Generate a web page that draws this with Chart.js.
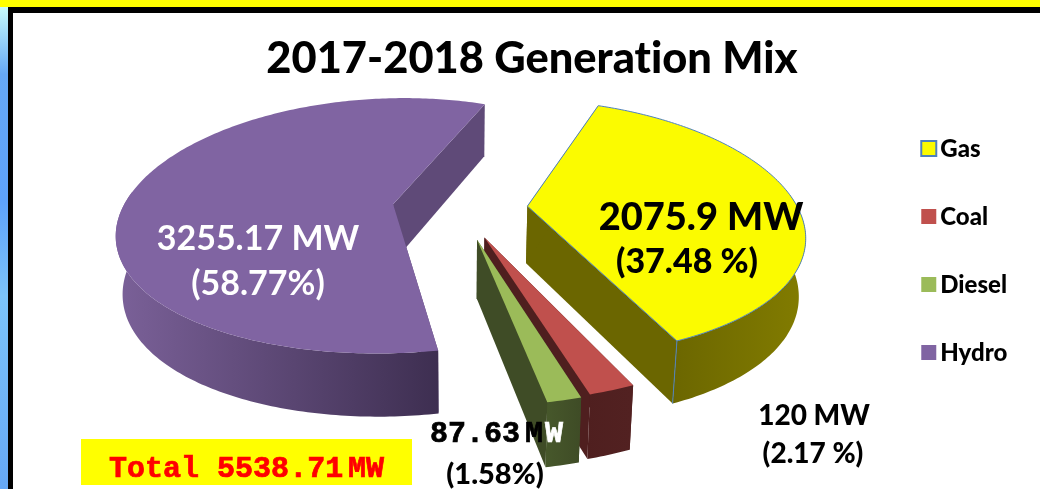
<!DOCTYPE html>
<html>
<head>
<meta charset="utf-8">
<title>2017-2018 Generation Mix</title>
<script src="https://cdn.jsdelivr.net/npm/chart.js@4"></script>
<style>
  html, body { margin: 0; padding: 0; background: #fff; overflow: hidden; }
  #page { position: relative; width: 1040px; height: 489px; background: #fff; overflow: hidden; }
  .topYellow { position: absolute; left: 0; top: 0; width: 1040px; height: 7px; background: #ffff00; }
  .topBlack { position: absolute; left: 8px; top: 7px; width: 1032px; height: 6px; background: #000; }
  .sideBlue { position: absolute; left: 0; top: 7px; width: 8px; height: 482px; background: linear-gradient(#c6fbfb, #66a8f5 14%, #5ea2fb 40%, #7cc4fa 60%, #66a8f5 100%); }
  .sideBlack { position: absolute; left: 8px; top: 7px; width: 5px; height: 482px; background: #000; }
  canvas { position: absolute; left: 0; top: 0; }
</style>
</head>
<body>
<div id="page">
  <div class="sideBlue"></div>
  <div class="topYellow"></div>
  <div class="topBlack"></div>
  <div class="sideBlack"></div>
  <canvas id="myChart" width="1040" height="489"></canvas>
</div>
<script>
// data
const categories = ['Gas', 'Coal', 'Diesel', 'Hydro'];
const generationMW = [2075.9, 120, 87.63, 3255.17];
const mwLabels = ['2075.9 MW', '120 MW', '87.63', '3255.17 MW'];
const percentLabels = ['(37.48 %)', '(2.17 %)', '(1.58%)', '(58.77%)'];
const totalLabel = 'Total 5538.71';
const chartTitle = '2017-2018 Generation Mix';

// slice pull-out, % of the radius
const explode = [25, 25, 25.8, 25];

// colours
const topColors = ['#fbfb00', '#c0504d', '#9bbb59', '#8064a2'];
const borderColors = ['#4f81bd', '#c0504d', '#9bbb59', '#8064a2'];
const borderWidths = [2, 0, 0, 0];
const wallColors = ['#6b6600', '#4f1f1f', '#3f4c26', '#5f4a78'];
const rimColors = [['#6b6600', '#827c00'], ['#4f1f1f', '#522121'], ['#47582b', '#3f4c26'], ['#7b6199', '#3d2e50']];
const rimRange = [[670, 805], [585, 630], [545, 580], [115, 442]];

// fake 3d view of the pie
const CX = 460, CY = 207, RX = 270, RY = 125, DEPTH = 57;
const PERSP_X = 0.2, PERSP_Y = 0.17, PERSP_Z = 0.1, TAPER = 0.02;
const LABEL_FONT = 'Lato, "Noto Sans", sans-serif';
const MONO_FONT = '"Liberation Mono", monospace';

function project(u, v, z) {
  const sx = 1 / (1 - PERSP_X * v);
  const sy = 1 / (1 - PERSP_Y * v);
  const sz = 1 / (1 - PERSP_Z * v);
  return {
    x: CX + RX * u * sx * (1 - TAPER * z),
    y: CY + RY * v * sy + DEPTH * z * sz
  };
}

// outline of one slice in pie coordinates (radius 1), apex first
function sliceShape(arc) {
  const mid = (arc.startAngle + arc.endAngle) / 2;
  const off = arc.options.offset / 100;
  const ox = Math.cos(mid) * off;
  const oy = Math.sin(mid) * off;
  const rim = [];
  const steps = Math.max(4, Math.ceil((arc.endAngle - arc.startAngle) / 0.015));
  for (let i = 0; i <= steps; i++) {
    const a = arc.startAngle + (arc.endAngle - arc.startAngle) * i / steps;
    rim.push({ u: ox + Math.cos(a), v: oy + Math.sin(a), front: Math.sin(a) > -0.1 });
  }
  return { apex: { u: ox, v: oy }, rim: rim };
}

function tracePoly(ctx, pts) {
  ctx.beginPath();
  pts.forEach((p, i) => i ? ctx.lineTo(p.x, p.y) : ctx.moveTo(p.x, p.y));
  ctx.closePath();
}

function fillWall(ctx, a, b, color) {
  tracePoly(ctx, [project(a.u, a.v, 0), project(b.u, b.v, 0), project(b.u, b.v, 1), project(a.u, a.v, 1)]);
  ctx.fillStyle = color;
  ctx.fill();
}

function drawSlice(ctx, arc, i) {
  const shape = sliceShape(arc);
  const first = shape.rim[0];
  const last = shape.rim[shape.rim.length - 1];
  const edges = [first, last];

  // walls running to the front go under the rim, back walls over it
  edges.filter(p => p.front).forEach(p => fillWall(ctx, shape.apex, p, wallColors[i]));

  const grad = ctx.createLinearGradient(rimRange[i][0], 0, rimRange[i][1], 0);
  grad.addColorStop(0, rimColors[i][0]);
  grad.addColorStop(1, rimColors[i][1]);
  const front = shape.rim.filter(p => p.front);
  const rimBottom = front.map(p => project(p.u, p.v, 1)).reverse();
  tracePoly(ctx, front.map(p => project(p.u, p.v, 0)).concat(rimBottom));
  ctx.fillStyle = grad;
  ctx.fill();

  edges.filter(p => !p.front).forEach(p => fillWall(ctx, shape.apex, p, wallColors[i]));

  // top face
  const rimTop = shape.rim.map(p => project(p.u, p.v, 0));
  tracePoly(ctx, [project(shape.apex.u, shape.apex.v, 0)].concat(rimTop));
  ctx.fillStyle = arc.options.backgroundColor;
  ctx.fill();

  if (arc.options.borderWidth > 0) {
    ctx.strokeStyle = arc.options.borderColor;
    ctx.lineWidth = 1;
    ctx.stroke();
    const a = project(last.u, last.v, 0);
    const b = project(last.u, last.v, 1);
    ctx.beginPath();
    ctx.moveTo(a.x, a.y);
    ctx.lineTo(b.x, b.y);
    ctx.stroke();
  }
}

function putText(ctx, text, x, y, font, color, align) {
  ctx.font = font;
  ctx.fillStyle = color;
  ctx.textAlign = align || 'center';
  ctx.textBaseline = 'alphabetic';
  ctx.fillText(text, x, y);
}

function putMono(ctx, text, x, y, font, color) {
  putText(ctx, text, x, y, font, color, 'left');
  ctx.strokeStyle = color;
  ctx.lineWidth = 0.7;
  ctx.strokeText(text, x, y);
}

const pie3dPlugin = {
  id: 'pie3d',
  beforeDraw(chart) {
    chart.ctx.letterSpacing = '0.01px'; // keeps Lato from joining "ti"
  },
  beforeDatasetsDraw(chart) {
    const ctx = chart.ctx;
    const arcs = chart.getDatasetMeta(0).data;
    ctx.save();
    [3, 0, 1, 2].forEach(i => drawSlice(ctx, arcs[i], i));
    ctx.restore();
    return false; // default flat arcs are replaced by the view above
  },
  afterDraw(chart) {
    const ctx = chart.ctx;
    ctx.save();
    const big = '900 34px ' + LABEL_FONT;
    const small = '900 28px ' + LABEL_FONT;
    putText(ctx, mwLabels[3], 258, 250, '700 34px ' + LABEL_FONT, '#fff');
    putText(ctx, percentLabels[3], 258, 295, '700 34px ' + LABEL_FONT, '#fff');
    putText(ctx, mwLabels[0], 701, 230, '900 38px ' + LABEL_FONT, '#000');
    putText(ctx, percentLabels[0], 687, 273, big, '#000');
    putText(ctx, mwLabels[1], 814, 425, small, '#000');
    putText(ctx, percentLabels[1], 813, 463, small, '#000');
    putText(ctx, percentLabels[2], 495, 484, '900 29px ' + LABEL_FONT, '#000');

    // legend text sits closer to the boxes than the library puts it
    chart.legend.legendItems.forEach((item, i) => {
      const box = chart.legend.legendHitBoxes[i];
      putText(ctx, item.text, box.left + 19, box.top + 20, '900 24px ' + LABEL_FONT, '#000', 'left');
    });

    const mono = 'bold 30px ' + MONO_FONT;
    putMono(ctx, mwLabels[2], 430, 442, mono, '#000');
    putMono(ctx, 'M', 525, 442, mono, '#000');
    putMono(ctx, 'W', 545, 442, mono, '#fff');

    ctx.fillStyle = '#ffff00';
    ctx.fillRect(81, 439, 331, 46);
    putMono(ctx, totalLabel, 109, 477, mono, '#ff0000');
    putMono(ctx, 'MW', 348, 477, mono, '#ff0000');
    ctx.restore();
  }
};

document.addEventListener('DOMContentLoaded', function () {
  const ctx = document.getElementById('myChart').getContext('2d');
  new Chart(ctx, {
    type: 'pie',
    data: {
      labels: categories,
      datasets: [{
        data: generationMW,
        backgroundColor: topColors,
        borderColor: borderColors,
        borderWidth: borderWidths,
        offset: explode
      }]
    },
    options: {
      responsive: false,
      animation: false,
      rotation: 21,
      layout: { padding: { left: 42, right: 18, top: 33, bottom: 21 } },
      plugins: {
        tooltip: { enabled: false },
        title: {
          display: true,
          text: chartTitle,
          color: '#000',
          font: { family: LABEL_FONT, size: 43.4, weight: '900' },
          padding: { top: 0, bottom: 10 }
        },
        legend: {
          position: 'right',
          labels: {
            color: 'rgba(0,0,0,0)',
            boxWidth: 15,
            boxHeight: 15,
            padding: 45,
            font: { family: LABEL_FONT, size: 23, weight: '900' }
          }
        }
      }
    },
    plugins: [pie3dPlugin]
  });
});
</script>
</body>
</html>
